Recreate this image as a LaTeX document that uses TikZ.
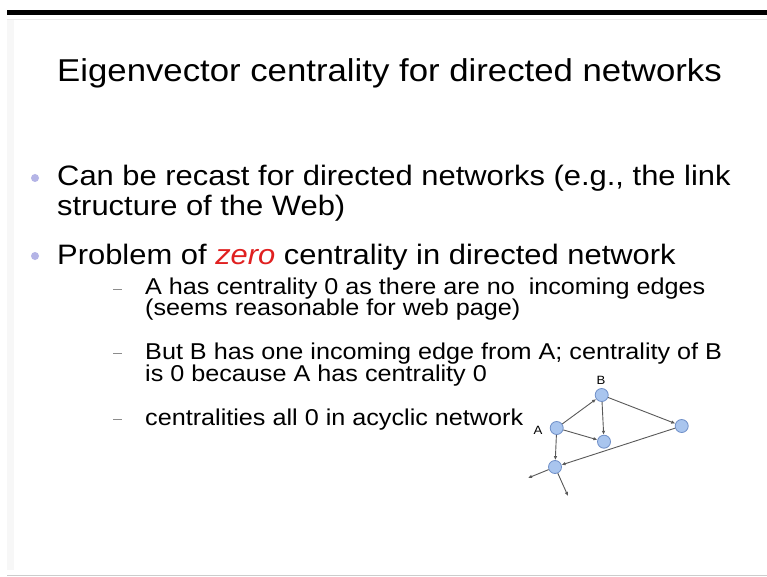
\documentclass[tikz,border=0pt]{standalone}
\usepackage{fontspec}
\setmainfont[FakeStretch=1.1]{Liberation Sans}
\usetikzlibrary{arrows.meta}

\definecolor{nodeblue}{HTML}{A9C5EE}
\definecolor{nodeedge}{HTML}{6F8FC8}
\definecolor{bulletc}{HTML}{B4B4E6}
\definecolor{zerored}{HTML}{E02020}

\tikzset{
  vert/.style={circle,draw=nodeedge,fill=nodeblue,line width=0.8pt,inner sep=0pt,minimum size=13pt},
  link/.style={draw=black!65,line width=0.9pt,-{Latex[length=4pt,width=3.5pt]}},
  titletext/.style={anchor=base west,inner sep=0pt,font=\fontsize{31.6}{38}\selectfont},
  maintext/.style={anchor=base west,inner sep=0pt,font=\fontsize{28.1}{34}\selectfont},
  subtext/.style={anchor=base west,inner sep=0pt,font=\fontsize{22.9}{27}\selectfont},
  lbl/.style={inner sep=0pt,font=\fontsize{12}{14}\selectfont}
}

\begin{document}
\begin{tikzpicture}[x=1pt,y=-1pt]
  \useasboundingbox (0,0) rectangle (767,577);
  \fill[white] (0,0) rectangle (767,577);
  % frame of the slide
  \fill[black] (7,10) rectangle (767,15);
  \draw[black!8,line width=1pt] (7,19.5) -- (767,19.5);
  \fill[black!3] (7,20) rectangle (14,570);
  \draw[black!20,line width=1pt] (7,575.5) -- (767,575.5);

  % title
  \node[titletext] (title) at (57,82) {Eigenvector centrality for directed networks};

  % bullets
  \fill[bulletc] (35,178) circle (4);
  \fill[bulletc] (35,256) circle (4);
  \node[maintext] (p1a) at (57,186) {Can be recast for directed networks (e.g., the link};
  \node[maintext] (p1b) at (57,215) {structure of the Web)};
  \node[maintext] (p2) at (57,264) {Problem of {\color{zerored}\itshape zero} centrality in directed network};

  % sub bullets
  \foreach \y in {289,353,419} \draw[black!45,line width=1pt] (113,\y) -- (122,\y);
  \node[subtext] (s1a) at (145,294) {A has centrality 0 as there are no\ \ incoming edges};
  \node[subtext] (s1b) at (145,315) {(seems reasonable for web page)};
  \node[subtext] (s2a) at (145,359) {But B has one incoming edge from A; centrality of B};
  \node[subtext] (s2b) at (145,381) {is 0 because A has centrality 0};
  \node[subtext] (s3) at (145,425) {centralities all 0 in acyclic network};

  % small network
  \node[vert] (B) at (601.7,395) {};
  \node[vert] (A) at (556.7,428) {};
  \node[vert] (R) at (681.7,426) {};
  \node[vert] (M) at (604,441.7) {};
  \node[vert] (L) at (555,467) {};
  \coordinate (e1) at (528,478);
  \coordinate (e2) at (568,496);
  \node[lbl] (labB) at (601,380) {B};
  \node[lbl] (labA) at (538,430) {A};

  \draw[link] (A) -- (B);
  \draw[link] (B) -- (M);
  \draw[link] (A) -- (M);
  \draw[link] (B) -- (R);
  \draw[link] (R) -- (L);
  \draw[link] (A) -- (L);
  \draw[link] (L) -- (e1);
  \draw[link] (L) -- (e2);
\end{tikzpicture}
\end{document}
